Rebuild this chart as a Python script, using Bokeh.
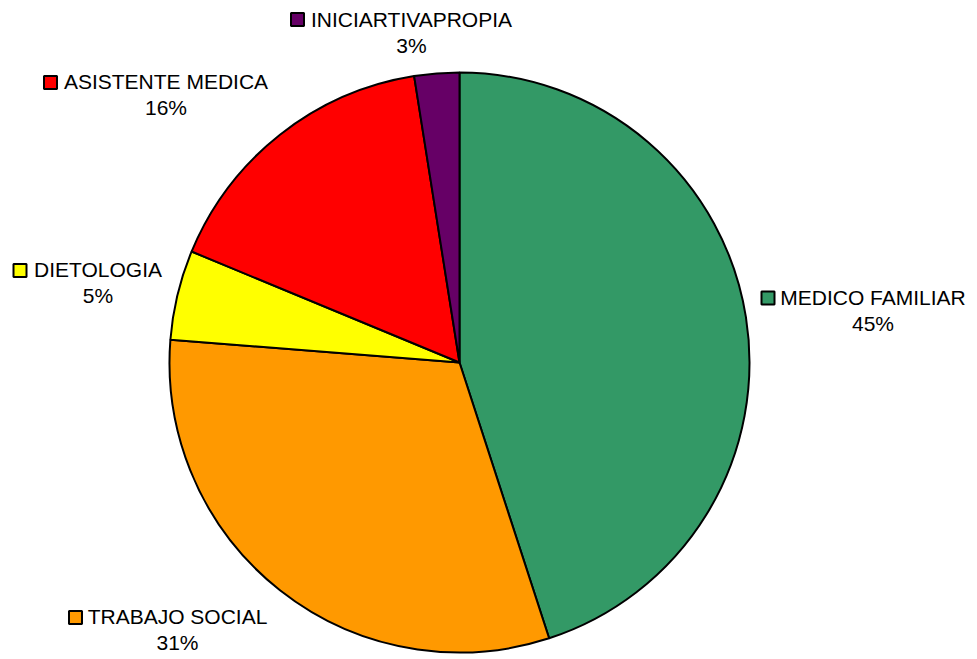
import math
from bokeh.plotting import figure
from bokeh.models import Range1d, ColumnDataSource
from bokeh.embed import file_html
from bokeh.resources import INLINE
from bokeh.core.properties import value

# ---- data ----
categories = ["MEDICO FAMILIAR", "TRABAJO SOCIAL", "DIETOLOGIA", "ASISTENTE MEDICA", "INICIARTIVAPROPIA"]
counts = [36, 25, 4, 13, 2]
colors = ["#339966", "#FF9900", "#FFFF00", "#FF0000", "#660066"]

# ---- layout (pixel coords from top-left) ----
W, H = 977, 659
CX, CY, R = 459, 362, 290
# text centre x, first-line baseline y, legend-square centre x, square centre y
label_layout = {
    "MEDICO FAMILIAR": (872.5, 305, 767.5, 297.5),
    "TRABAJO SOCIAL": (177, 624, 75, 617),
    "DIETOLOGIA": (97.5, 277, 19.5, 270),
    "ASISTENTE MEDICA": (165.5, 89, 50, 82),
    "INICIARTIVAPROPIA": (411, 27, 297, 19),
}
BASELINE_SHIFT = 8   # svg text sits lower than canvas baseline
LINE_GAP = 26
FONT = "Liberation Sans"
FSIZE = "21px"

total = sum(counts)
starts, ends = [], []
cum = 0
for c in counts:
    starts.append(math.pi / 2 - 2 * math.pi * cum / total)
    cum += c
    ends.append(math.pi / 2 - 2 * math.pi * cum / total)

pct = [f"{int(100 * c / total + 0.5)}%" for c in counts]

p = figure(width=W, height=H, output_backend="svg", toolbar_location=None,
           x_range=Range1d(0, W), y_range=Range1d(0, H), min_border=0)
p.xaxis.visible = False
p.yaxis.visible = False
p.grid.visible = False
p.outline_line_color = None
p.background_fill_color = "white"
p.border_fill_color = "white"

src = ColumnDataSource(dict(start=starts, end=ends, color=colors))
p.wedge(x=CX, y=H - CY, radius=R, start_angle="start", end_angle="end",
        direction="clock", fill_color="color", line_color="black",
        line_width=2, source=src)

tx, ty1, ty2, sx, sy = [], [], [], [], []
for cat in categories:
    a, b, c, d = label_layout[cat]
    tx.append(a)
    ty1.append(H - (b - BASELINE_SHIFT))
    ty2.append(H - (b - BASELINE_SHIFT) - LINE_GAP)
    sx.append(c)
    sy.append(H - d)

lsrc = ColumnDataSource(dict(tx=tx, ty1=ty1, ty2=ty2, sx=sx, sy=sy,
                             name=categories, pct=pct, color=colors))
p.text(x="tx", y="ty1", text="name", source=lsrc, text_align="center",
       text_baseline="alphabetic", text_font=value(FONT), text_font_size=FSIZE,
       text_color="black")
p.text(x="tx", y="ty2", text="pct", source=lsrc, text_align="center",
       text_baseline="alphabetic", text_font=value(FONT), text_font_size=FSIZE,
       text_color="black")
p.scatter(x="sx", y="sy", marker="square", size=13, fill_color="color",
          line_color="black", line_width=2, source=lsrc)

open("out.html", "w").write(file_html(p, INLINE))
